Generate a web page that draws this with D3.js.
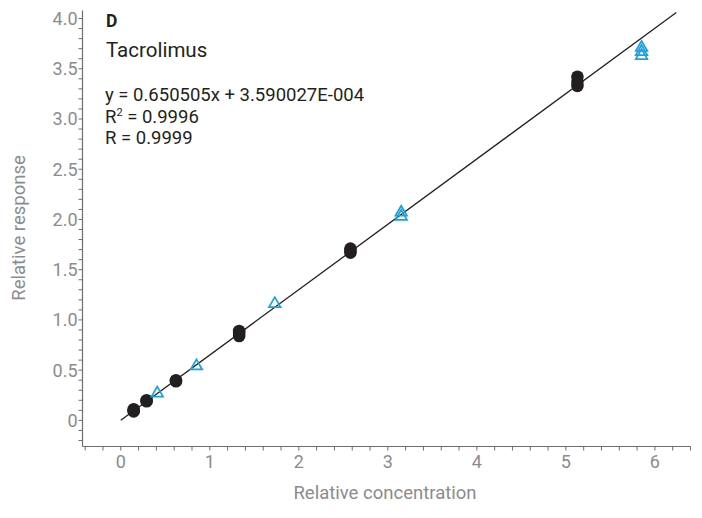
<!DOCTYPE html>
<html>
<head>
<meta charset="utf-8">
<script src="https://cdn.jsdelivr.net/npm/d3@7"></script>
<style>
  body { margin: 0; background: #fff; }
  text { font-family: Roboto, "Open Sans", sans-serif; }
</style>
</head>
<body>
<svg id="chart" width="702" height="518"></svg>
<script>
// calibrator points (filled black circles)
var calX = [0.145, 0.145, 0.145, 0.29, 0.29, 0.62, 0.62, 1.33, 1.33, 1.33, 2.58, 2.58, 2.58, 5.13, 5.13, 5.13];
var calY = [0.09, 0.10, 0.11, 0.19, 0.20, 0.39, 0.40, 0.84, 0.87, 0.89, 1.67, 1.69, 1.71, 3.33, 3.37, 3.42];

// QC points (open blue triangles)
var qcX = [0.41, 0.85, 1.73, 3.15, 3.15, 5.85, 5.85, 5.85];
var qcY = [0.27, 0.54, 1.16, 2.03, 2.07, 3.63, 3.67, 3.71];

// fit
var slope = 0.650505;
var intercept = 3.590027e-4;
var fitTopY = 4.06;

var xTicks = [0, 1, 2, 3, 4, 5, 6];
var yTicks = [0, 0.5, 1.0, 1.5, 2.0, 2.5, 3.0, 3.5, 4.0];

var annotation = ["y = 0.650505x + 3.590027E-004", "R2 = 0.9996", "R = 0.9999"];

var svg = d3.select("#chart");
var axisColor = "#6b6e72",
    labelColor = "#8a8c8f",
    inkColor = "#231f20",
    blue = "#1aa1de";

var x = d3.scaleLinear().domain([-0.43, 6.4]).range([82.5, 690.5]);
var y = d3.scaleLinear().domain([-0.26, 4.08]).range([446.5, 10.5]);

// y axis
var yAxis = svg.append("g")
    .attr("transform", "translate(" + x.range()[0] + ",0)");
yAxis.append("line")
    .attr("x1", 0).attr("x2", 0)
    .attr("y1", y.range()[1]).attr("y2", y.range()[0])
    .attr("stroke", axisColor).attr("stroke-width", 1.2);
var yMinor = d3.range(-2, 41).map(function(i) { return i / 10; });
yAxis.selectAll("line.minor")
  .data(yMinor)
  .enter().append("line")
    .attr("class", "minor")
    .attr("x1", -4).attr("x2", 0)
    .attr("y1", function(d) { return y(d); })
    .attr("y2", function(d) { return y(d); })
    .attr("stroke", axisColor).attr("stroke-width", 1);
yAxis.selectAll("text")
  .data(yTicks)
  .enter().append("text")
    .attr("x", -5)
    .attr("y", function(d) { return y(d); })
    .attr("dy", "0.36em")
    .attr("text-anchor", "end")
    .attr("font-size", 18)
    .attr("fill", labelColor)
    .text(function(d) { return d === 0 ? "0" : d3.format(".1f")(d); });

// x axis
var xAxis = svg.append("g")
    .attr("transform", "translate(0," + y.range()[0] + ")");
xAxis.append("line")
    .attr("x1", x.range()[0]).attr("x2", x.range()[1])
    .attr("y1", 0).attr("y2", 0)
    .attr("stroke", axisColor).attr("stroke-width", 1.2);
var xMinor = d3.range(-2, 33).map(function(i) { return i / 5; });
xAxis.selectAll("line.minor")
  .data(xMinor)
  .enter().append("line")
    .attr("class", "minor")
    .attr("x1", function(d) { return x(d); })
    .attr("x2", function(d) { return x(d); })
    .attr("y1", 0).attr("y2", 4)
    .attr("stroke", axisColor).attr("stroke-width", 1);
xAxis.selectAll("text")
  .data(xTicks)
  .enter().append("text")
    .attr("x", function(d) { return x(d); })
    .attr("y", 21)
    .attr("text-anchor", "middle")
    .attr("font-size", 18)
    .attr("fill", labelColor)
    .text(function(d) { return d; });

// axis titles
svg.append("text")
    .attr("x", 385).attr("y", 499)
    .attr("text-anchor", "middle")
    .attr("font-size", 18.5)
    .attr("fill", labelColor)
    .text("Relative concentration");
svg.append("text")
    .attr("transform", "translate(25,228) rotate(-90)")
    .attr("text-anchor", "middle")
    .attr("font-size", 18.5)
    .attr("fill", labelColor)
    .text("Relative response");

// regression line, from 0 up near the top of the plot
var xEnd = (fitTopY - intercept) / slope;
svg.append("line")
    .attr("x1", x(0)).attr("y1", y(intercept))
    .attr("x2", x(xEnd)).attr("y2", y(slope * xEnd + intercept))
    .attr("stroke", inkColor).attr("stroke-width", 1.3);

// calibrators
svg.append("g").selectAll("circle")
  .data(d3.range(calX.length))
  .enter().append("circle")
    .attr("cx", function(i) { return x(calX[i]); })
    .attr("cy", function(i) { return y(calY[i]); })
    .attr("r", 6.3)
    .attr("fill", inkColor);

// QCs
var tri = d3.symbol().type(d3.symbolTriangle).size(58);
svg.append("g").selectAll("path")
  .data(d3.range(qcX.length))
  .enter().append("path")
    .attr("d", tri)
    .attr("transform", function(i) { return "translate(" + x(qcX[i]) + "," + y(qcY[i]) + ")"; })
    .attr("fill", "none")
    .attr("stroke", blue)
    .attr("stroke-width", 1.7);

// annotation
svg.append("text")
    .attr("x", 106).attr("y", 26.5)
    .attr("font-size", 17.5).attr("font-weight", "bold")
    .attr("fill", inkColor)
    .text("D");
svg.append("text")
    .attr("x", 106).attr("y", 57)
    .attr("font-size", 20.5)
    .attr("fill", inkColor)
    .text("Tacrolimus");

var ann = svg.append("g").attr("fill", inkColor).attr("font-size", 18.5);
ann.append("text").attr("x", 105).attr("y", 101).text(annotation[0]);
var r2 = ann.append("text").attr("x", 105).attr("y", 122.5);
r2.append("tspan").text("R");
r2.append("tspan").attr("font-size", 11).attr("dy", -7).text("2");
r2.append("tspan").attr("dy", 7).text(" = 0.9996");
ann.append("text").attr("x", 105).attr("y", 144).text(annotation[2]);
</script>
</body>
</html>
